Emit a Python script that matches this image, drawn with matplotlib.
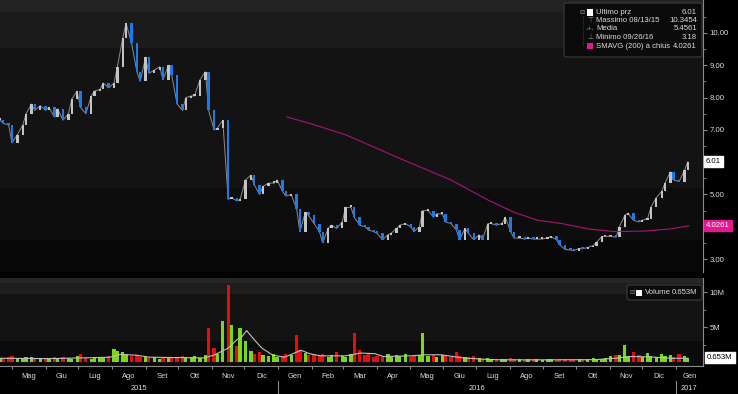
import matplotlib.pyplot as plt
import matplotlib.dates as mdates
import matplotlib.transforms as mtransforms
from matplotlib.patches import Rectangle, FancyBboxPatch
from matplotlib.lines import Line2D
import pandas as pd

plt.rcParams['font.family'] = ['Liberation Sans', 'DejaVu Sans']

# closes, one every 3 business days from 2015-04-20
close = [7.3, 7.2, 7.15, 6.6, 6.85, 7.15, 7.5, 7.8, 7.6, 7.75,
         7.6, 7.7, 7.4, 7.65, 7.3, 7.5, 7.95, 8.2, 7.7, 7.5,
         8.05, 8.2, 8.25, 8.45, 8.3, 8.45, 8.95, 9.85, 10.3, 9.7,
         8.8, 8.5, 9.25, 8.75, 8.85, 8.95, 8.55, 9.0, 8.7, 7.8,
         7.6, 8.0, 8.05, 8.05, 8.55, 8.8, 7.6, 7.0, 7.05, 7.3,
         4.85, 4.9, 4.8, 4.85, 5.45, 5.6, 5.3, 5.0, 5.25, 5.35,
         5.35, 5.45, 5.1, 4.95, 5.0, 4.55, 3.85, 4.45, 4.35, 4.1,
         3.85, 3.5, 3.95, 4.05, 3.95, 4.15, 4.6, 4.6, 4.3, 4.05,
         4.0, 3.9, 3.85, 3.8, 3.6, 3.75, 3.8, 3.95, 4.05, 4.1,
         4.0, 3.85, 4.0, 4.5, 4.5, 4.3, 4.4, 4.4, 4.15, 4.1,
         3.9, 3.6, 3.95, 3.8, 3.6, 3.75, 3.6, 4.1, 4.1, 4.05,
         4.1, 4.3, 3.85, 3.65, 3.65, 3.62, 3.65, 3.62, 3.62, 3.62,
         3.66, 3.7, 3.6, 3.45, 3.3, 3.28, 3.26, 3.33, 3.32, 3.36,
         3.42, 3.52, 3.7, 3.7, 3.7, 3.68, 4.0, 4.35, 4.42, 4.2,
         4.15, 4.2, 4.25, 4.6, 4.9, 5.1, 5.35, 5.7, 5.45, 5.4,
         5.75, 6.01]

# volume in millions, same dates
volume = [0.6, 0.5, 0.7, 0.9, 0.6, 0.5, 0.7, 0.8, 0.5, 0.6,
          0.5, 0.6, 0.7, 0.5, 0.8, 0.6, 0.5, 0.9, 1.1, 0.6,
          0.5, 0.7, 0.6, 0.8, 0.9, 1.9, 1.6, 1.4, 1.2, 0.9,
          1.0, 0.8, 0.7, 0.6, 0.8, 0.5, 0.6, 0.7, 0.6, 0.8,
          0.9, 0.7, 0.8, 0.9, 0.6, 1.0, 4.9, 2.0, 1.2, 5.8,
          11.0, 5.3, 2.3, 4.9, 3.0, 1.6, 1.2, 1.5, 1.0, 0.9,
          1.2, 0.8, 0.9, 1.1, 1.0, 3.9, 1.8, 1.3, 1.0, 1.2,
          0.9, 1.1, 0.8, 1.0, 1.4, 0.9, 0.8, 1.2, 4.1, 1.8,
          1.0, 1.1, 0.8, 0.9, 0.7, 1.2, 0.8, 1.0, 0.9, 1.1,
          0.8, 0.9, 1.0, 4.1, 0.9, 1.0, 0.8, 1.0, 0.9, 0.8,
          1.4, 0.9, 0.8, 0.7, 0.9, 0.6, 0.5, 0.6, 0.5, 0.4,
          0.5, 0.4, 0.6, 0.4, 0.5, 0.3, 0.4, 0.5, 0.4, 0.3,
          0.4, 0.5, 0.3, 0.4, 0.5, 0.4, 0.3, 0.4, 0.5, 0.4,
          0.6, 0.5, 0.4, 0.6, 0.9, 1.0, 1.0, 2.5, 0.9, 1.5,
          1.0, 0.8, 1.3, 0.9, 0.7, 1.2, 0.9, 1.0, 0.8, 1.1,
          0.9, 0.653]

sma_dates = ['2016-01-09', '2016-01-30', '2016-03-03', '2016-04-23', '2016-06-08',
             '2016-07-12', '2016-08-05', '2016-08-27', '2016-09-18', '2016-10-13',
             '2016-11-06', '2016-12-04', '2016-12-26', '2017-01-13']
sma_vals = [7.4, 7.2, 6.85, 6.1, 5.45, 4.83, 4.45, 4.2, 4.1, 3.93, 3.85, 3.87, 3.93, 4.03]

vma_dates = ['2015-04-20', '2015-06-05', '2015-07-30', '2015-08-09', '2015-08-23',
             '2015-09-05', '2015-10-25', '2015-11-03', '2015-11-16', '2015-11-24',
             '2015-11-28', '2015-12-03', '2015-12-10', '2015-12-17', '2015-12-27',
             '2016-01-07', '2016-01-22', '2016-01-30', '2016-02-09', '2016-03-03',
             '2016-03-17', '2016-03-30', '2016-04-07', '2016-05-02', '2016-05-16',
             '2016-05-30', '2016-06-19', '2016-07-10', '2016-07-24', '2016-09-08',
             '2016-10-19', '2016-11-06', '2016-11-20', '2016-12-08', '2016-12-27',
             '2017-01-12']
vma_vals = [0.55, 0.5, 0.7, 1.1, 1.0, 0.7, 0.6, 1.0, 2.0, 3.2,
            3.5, 4.5, 3.2, 2.0, 1.0, 0.7, 1.7, 1.2, 0.9, 0.9,
            1.3, 1.2, 0.8, 0.9, 1.05, 1.05, 0.6, 0.4, 0.33, 0.33,
            0.35, 0.55, 0.8, 0.75, 0.55, 0.55]

legend_labels = ['Ultimo prz', 'Massimo 08/13/15', 'Media', 'Minimo 09/26/16', 'SMAVG (200) a chius']
legend_values = ['6.01', '10.3454', '5.4561', '3.18', '4.0261']
month_labels = ['Gen', 'Feb', 'Mar', 'Apr', 'Mag', 'Giu', 'Lug', 'Ago', 'Set', 'Ott', 'Nov', 'Dic']
price_ticks = [3, 4, 5, 6, 7, 8, 9, 10]
vol_ticks = [5, 10]
vol_tick_labels = ['5M', '10M']

last_price = 6.01
last_sma = 4.0261
last_vol = 0.653

dates = pd.bdate_range('2015-04-20', periods=3 * len(close), freq='B')[::3]
xmin, xmax = pd.Timestamp('2015-04-20'), pd.Timestamp('2017-01-26')

W, H = 738, 394
fig = plt.figure(figsize=(W / 100, H / 100), dpi=100, facecolor='black')
ax1 = fig.add_axes([0, 1 - 272 / H, 703 / W, 272 / H])
ax2 = fig.add_axes([0, 1 - 366 / H, 703 / W, 88 / H], sharex=ax1)

gray = '#8a8a8a'
txt = '#dcdcdc'

# price panel
ax1.set_facecolor('black')
ax1.set_ylim(2.60, 11.02)
for lo, hi, c in [(10.65, 11.1, '#232323'), (9.54, 10.65, '#1b1b1b'), (5.2, 9.54, '#131313'),
                  (3.59, 5.2, '#0d0d0d'), (2.5, 3.59, '#070707')]:
    ax1.axhspan(lo, hi, color=c, lw=0, zorder=0)

opens = [close[0]] + close[:-1]
up_c, dn_c = '#c4c4c4', '#1e7ae6'
ax1.plot(dates, close, color='#8c8c8c', lw=0.7, zorder=1.5)
for d, o, c in zip(dates, opens, close):
    col = up_c if c >= o else dn_c
    lo, hi = min(o, c), max(o, c)
    ax1.bar(d, max(hi - lo, 0.06), bottom=lo, width=2.2, color=col, lw=0, zorder=2)

ax1.plot(pd.to_datetime(sma_dates), sma_vals, color='#a8137a', lw=0.8, zorder=3)

# volume panel
ax2.set_facecolor('black')
ax2.set_ylim(-0.55, 12.0)
for lo, hi, c in [(11.3, 12.5, '#262626'), (9.7, 11.3, '#1d1d1d'), (3.0, 9.7, '#131313'),
                  (-1, 3.0, '#0b0b0b')]:
    ax2.axhspan(lo, hi, color=c, lw=0, zorder=0)
vcols = ['#78d81a' if c >= o else '#e30f0f' for o, c in zip(opens, close)]
ax2.bar(dates, volume, width=3.0, color=vcols, lw=0, zorder=2)
ax2.plot(pd.to_datetime(vma_dates), vma_vals, color='#bfbfbf', lw=0.8, zorder=3)

ax1.set_xlim(xmin, xmax)

for ax in (ax1, ax2):
    for s in ('left', 'top', 'bottom'):
        ax.spines[s].set_visible(False)
    ax.spines['right'].set_color(gray)
    ax.yaxis.tick_right()
    ax.tick_params(axis='y', direction='out', length=3, width=0.8, color=gray,
                   labelsize=5.6, labelcolor=txt, pad=1.5)
    ax.tick_params(axis='y', which='minor', length=2, width=0.6, color=gray)

# labels at 4 and 6 sit under the value tags
ax1.set_yticks(price_ticks)
ax1.set_yticklabels(['' if t in (4, 6) else '%.2f' % t for t in price_ticks])
ax1.set_yticks([t + 0.5 for t in price_ticks], minor=True)
ax1.tick_params(axis='x', bottom=False, labelbottom=False)

ax2.set_yticks(vol_ticks)
ax2.set_yticklabels(vol_tick_labels)
ax2.set_yticks([2.5, 7.5], minor=True)
ax2.spines['bottom'].set_visible(True)
ax2.spines['bottom'].set_color(gray)
months = pd.date_range('2015-05-01', '2017-01-01', freq='MS')
ax2.set_xticks(months)
ax2.tick_params(axis='x', direction='out', length=2, width=0.8, color=gray, labelbottom=False)

# month and year labels
bt = mtransforms.blended_transform_factory(ax2.transData, fig.transFigure)
for m in pd.date_range('2015-04-01', '2017-01-01', freq='MS'):
    a = max(m, xmin)
    b = min(m + pd.offsets.MonthBegin(1), xmax)
    if (b - a).days < 15:
        continue
    mid = a + (b - a) / 2
    fig.text(mdates.date2num(mid), 1 - 377 / H, month_labels[m.month - 1], transform=bt,
             ha='center', va='center', fontsize=5.4, color=txt)
for yr in [2015, 2016, 2017]:
    a = max(pd.Timestamp(f'{yr}-01-01'), xmin)
    b = min(pd.Timestamp(f'{yr + 1}-01-01'), xmax)
    mid = a + (b - a) / 2
    fig.text(mdates.date2num(mid), 1 - 388 / H, str(yr), transform=bt,
             ha='center', va='center', fontsize=5.4, color=txt)
    if yr > 2015:
        xd = mdates.date2num(pd.Timestamp(f'{yr}-01-01'))
        fig.add_artist(Line2D([xd, xd], [1 - 381 / H, 1 - 393 / H], transform=bt,
                              color=gray, lw=0.8))

# value tags on the right axis
rt1 = mtransforms.blended_transform_factory(ax1.transAxes, ax1.transData)
ax1.text(1.004, last_price, '%.2f' % last_price, transform=rt1, ha='left', va='center',
         fontsize=5.6, color='black', zorder=10, clip_on=False,
         bbox=dict(boxstyle='square,pad=0.25', fc='white', ec='white'))
ax1.text(1.004, last_sma, '%.4f' % last_sma, transform=rt1, ha='left', va='center',
         fontsize=5.6, color='white', zorder=10, clip_on=False,
         bbox=dict(boxstyle='square,pad=0.25', fc='#e3178f', ec='#e3178f'))
rt2 = mtransforms.blended_transform_factory(ax2.transAxes, ax2.transData)
ax2.text(1.006, last_vol, '%.3fM' % last_vol, transform=rt2, ha='left', va='center',
         fontsize=5.6, color='black', zorder=10, clip_on=False,
         bbox=dict(boxstyle='square,pad=0.25', fc='white', ec='white'))


def px(x, y):
    return x / W, 1 - y / H


# price legend
fig.add_artist(FancyBboxPatch(px(564, 57), 138 / W, 54 / H, boxstyle='round,pad=0,rounding_size=0.004',
                              transform=fig.transFigure, fc='#0b0b0b', ec='#3c3c3c', lw=0.8))
rows = [12.5, 20.8, 29.0, 37.3, 46.0]
fig.text(*px(582, rows[0]), '\u229f', fontsize=4.5, color=gray, ha='center', va='center')
fig.add_artist(Line2D([583 / W, 583 / W], [1 - 16 / H, 1 - 46 / H], transform=fig.transFigure,
                      color='#555555', lw=0.6, ls=':'))
fig.add_artist(Rectangle(px(587, 15.5), 6 / W, 6 / H, transform=fig.transFigure, fc='white', ec='none'))
fig.text(*px(590, rows[1]), '\u22a4', fontsize=5, color=gray, ha='center', va='center')
fig.text(*px(590, rows[2]), '-+-', fontsize=5, color=gray, ha='center', va='center')
fig.text(*px(590, rows[3]), '\u22a5', fontsize=5, color=gray, ha='center', va='center')
fig.add_artist(Rectangle(px(587, 49), 6 / W, 6 / H, transform=fig.transFigure, fc='#e3178f', ec='none'))
for r, lab, val in zip(rows, legend_labels, legend_values):
    fig.text(*px(596, r), lab, fontsize=5.6, color=txt, ha='left', va='center')
    fig.text(*px(697, r), val, fontsize=5.6, color=txt, ha='right', va='center')

# volume legend
fig.add_artist(FancyBboxPatch(px(627, 300), 75 / W, 15 / H, boxstyle='round,pad=0,rounding_size=0.004',
                              transform=fig.transFigure, fc='#0b0b0b', ec='#3c3c3c', lw=0.8))
fig.text(*px(632, 292.5), '\u229f', fontsize=4.5, color=gray, ha='center', va='center')
fig.add_artist(Rectangle(px(636, 295.5), 6 / W, 6 / H, transform=fig.transFigure, fc='white', ec='none'))
fig.text(*px(645, 292.5), 'Volume', fontsize=5.6, color=txt, ha='left', va='center')
fig.text(*px(697, 292.5), '%.3fM' % last_vol, fontsize=5.6, color=txt, ha='right', va='center')

fig.savefig('out.png', dpi=100, facecolor='black')
